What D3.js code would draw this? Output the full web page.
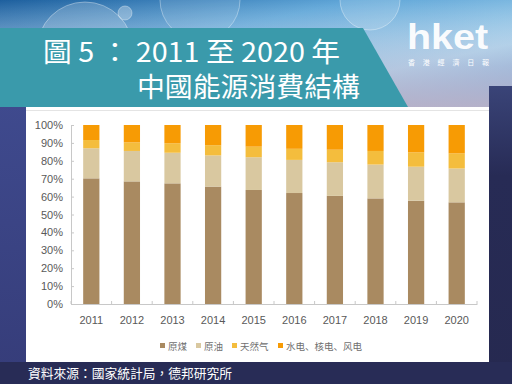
<!DOCTYPE html>
<html><head><meta charset="utf-8">
<script src="https://cdn.jsdelivr.net/npm/d3@7"></script>
<style>html,body{margin:0;padding:0;background:#fff;}svg{display:block;}</style>
</head><body>
<script>
const years = ["2011","2012","2013","2014","2015","2016","2017","2018","2019","2020"];
const coal  = [70.2, 68.5, 67.4, 65.6, 63.7, 62.0, 60.4, 59.0, 57.7, 56.8];
const oil   = [16.8, 17.0, 17.1, 17.4, 18.3, 18.5, 18.8, 18.9, 19.0, 18.9];
const gas   = [4.6, 4.8, 5.3, 5.7, 5.9, 6.2, 7.0, 7.6, 8.0, 8.4];
const other = [8.4, 9.7, 10.2, 11.3, 12.1, 13.3, 13.8, 14.5, 15.3, 15.9];
const seriesNames = ["原煤", "原油", "天然气", "水电、核电、风电"];
const yTicks = [0,10,20,30,40,50,60,70,80,90,100];
const titleLine1 = "圖 5 ： 2011 至 2020 年";
const titleLine2 = "中國能源消費結構";
const sourceText = "資料來源：國家統計局，德邦研究所";

const colors = ["#a98a61", "#d9c8a0", "#f4bd3d", "#f79b04"];
const W = 512, H = 384;
const svg = d3.select("body").append("svg").attr("width", W).attr("height", H);
const defs = svg.append("defs");

// header gradient
const hg = defs.append("linearGradient").attr("id","hg").attr("x1","0").attr("y1","0").attr("x2","1").attr("y2","1");
hg.append("stop").attr("offset","0").attr("stop-color","#1d5f9e");
hg.append("stop").attr("offset","0.35").attr("stop-color","#5fa6d8");
hg.append("stop").attr("offset","0.7").attr("stop-color","#9fcdea");
hg.append("stop").attr("offset","1").attr("stop-color","#4f86c4");
svg.append("rect").attr("x",0).attr("y",0).attr("width",W).attr("height",110).attr("fill","url(#hg)");
const hg2 = defs.append("linearGradient").attr("id","hg2").attr("x1","0").attr("y1","0").attr("x2","0").attr("y2","1");
hg2.append("stop").attr("offset","0").attr("stop-color","#ffffff").attr("stop-opacity",0);
hg2.append("stop").attr("offset","0.6").attr("stop-color","#c9c3d8").attr("stop-opacity",0.5);
hg2.append("stop").attr("offset","1").attr("stop-color","#b7b1c8").attr("stop-opacity",1);
svg.append("rect").attr("x",0).attr("y",0).attr("width",W).attr("height",110).attr("fill","url(#hg2)");
// bubbles
[[85,50,48,0.18],[125,13,7,0.3],[370,0,30,0.15],[200,0,40,0.1]].forEach(c=>{
  svg.append("circle").attr("cx",c[0]).attr("cy",c[1]).attr("r",c[2]).attr("fill","#ffffff").attr("fill-opacity",c[3]).attr("stroke","#ffffff").attr("stroke-opacity",0.35);
});

// side strips
const lg = defs.append("linearGradient").attr("id","lg").attr("x1","0").attr("y1","0").attr("x2","0").attr("y2","1");
lg.append("stop").attr("offset","0").attr("stop-color","#3f4a8e");
lg.append("stop").attr("offset","1").attr("stop-color","#363d7a");
svg.append("rect").attr("x",0).attr("y",100).attr("width",30).attr("height",270).attr("fill","url(#lg)");
const rg = defs.append("linearGradient").attr("id","rg").attr("x1","0").attr("y1","0").attr("x2","0").attr("y2","1");
rg.append("stop").attr("offset","0").attr("stop-color","#3a4478");
rg.append("stop").attr("offset","0.3").attr("stop-color","#272b55");
rg.append("stop").attr("offset","1").attr("stop-color","#262950");
svg.append("rect").attr("x",489).attr("y",86).attr("width",23).attr("height",300).attr("fill","url(#rg)");
// bottom band
svg.append("rect").attr("x",0).attr("y",362).attr("width",W).attr("height",22).attr("fill","#282c56");
// white chart panel
svg.append("rect").attr("x",26).attr("y",107).attr("width",463).attr("height",255).attr("fill","#ffffff");
svg.append("line").attr("x1",26).attr("x2",489).attr("y1",110.5).attr("y2",110.5).attr("stroke","#e4e4e4");

// teal banner
svg.append("path").attr("d","M0,28 L363,28 L408,107 L0,107 Z").attr("fill","#3a9aab");
svg.append("text").attr("x",43).attr("y",62).attr("fill","#ffffff")
  .attr("font-family","'Noto Sans CJK TC','Noto Sans CJK SC',sans-serif").attr("font-size",27)
  .attr("textLength",297).attr("lengthAdjust","spacingAndGlyphs").text(titleLine1);
svg.append("text").attr("x",137).attr("y",97).attr("fill","#ffffff")
  .attr("font-family","'Noto Sans CJK TC','Noto Sans CJK SC',sans-serif").attr("font-size",27)
  .attr("textLength",223).attr("lengthAdjust","spacingAndGlyphs").text(titleLine2);

// logo
svg.append("text").attr("x",407).attr("y",49).attr("fill","#ffffff").attr("fill-opacity",0.95)
  .attr("font-family","'Liberation Sans',Arial,sans-serif").attr("font-weight","bold").attr("font-size",35)
  .attr("textLength",81).attr("lengthAdjust","spacingAndGlyphs").text("hket");
svg.append("text").attr("x",408).attr("y",65).attr("fill","#ffffff")
  .attr("font-family","'Noto Sans CJK TC',sans-serif").attr("font-size",7)
  .attr("textLength",81).attr("lengthAdjust","spacing").text("香港經濟日報");

// chart
const x = d3.scaleBand().domain(years).range([71, 477]).paddingInner(0.6).paddingOuter(0.3);
const y = d3.scaleLinear().domain([0, 100]).range([304, 125]);
const data = years.map((yr,i)=>({year:yr, coal:coal[i], oil:oil[i], gas:gas[i], other:other[i]}));
const keys = ["coal","oil","gas","other"];
const stacked = d3.stack().keys(keys)(data);

svg.append("g").selectAll("g").data(stacked).join("g").attr("fill",(d,i)=>colors[i])
  .selectAll("rect").data(d=>d).join("rect")
  .attr("x",d=>x(d.data.year)).attr("width",x.bandwidth())
  .attr("y",d=>y(Math.min(d[1],100))).attr("height",d=>y(d[0])-y(Math.min(d[1],100)));

// y axis
const ya = svg.append("g").attr("transform","translate(71,0)")
  .call(d3.axisLeft(y).tickValues(yTicks).tickFormat(d=>d+"%").tickSizeInner(-3).tickSizeOuter(0).tickPadding(8));
ya.select(".domain").attr("stroke","#c8c8c8");
ya.selectAll(".tick line").attr("stroke","#c8c8c8");
ya.selectAll("text").attr("fill","#595959").attr("font-size",11).attr("font-family","'Liberation Sans',Arial,sans-serif");

// x axis
const xa = svg.append("g").attr("transform","translate(0,304)")
  .call(d3.axisBottom(x).tickSize(0).tickPadding(12));
xa.select(".domain").attr("stroke","#c8c8c8");
xa.selectAll("text").attr("fill","#595959").attr("font-size",11).attr("font-family","'Liberation Sans',Arial,sans-serif");
const bounds = years.map(yr=>x(yr)-x.step()*x.paddingInner()/2).concat([477]);
svg.append("g").selectAll("line").data(bounds).join("line")
  .attr("x1",d=>d).attr("x2",d=>d).attr("y1",301).attr("y2",304).attr("stroke","#c8c8c8");

// legend
const legX = [160, 196, 232, 278];
const lg2 = svg.append("g");
seriesNames.forEach((n,i)=>{
  lg2.append("rect").attr("x",legX[i]).attr("y",343).attr("width",5).attr("height",5).attr("fill",colors[i]);
  lg2.append("text").attr("x",legX[i]+8).attr("y",350).attr("fill","#707070")
    .attr("font-family","'Noto Sans CJK SC',sans-serif").attr("font-size",9.5).text(n);
});

// source
svg.append("text").attr("x",28).attr("y",378).attr("fill","#ffffff")
  .attr("font-family","'Noto Sans CJK TC',sans-serif").attr("font-size",13)
  .attr("textLength",204).attr("lengthAdjust","spacingAndGlyphs").text(sourceText);
</script>
</body></html>
